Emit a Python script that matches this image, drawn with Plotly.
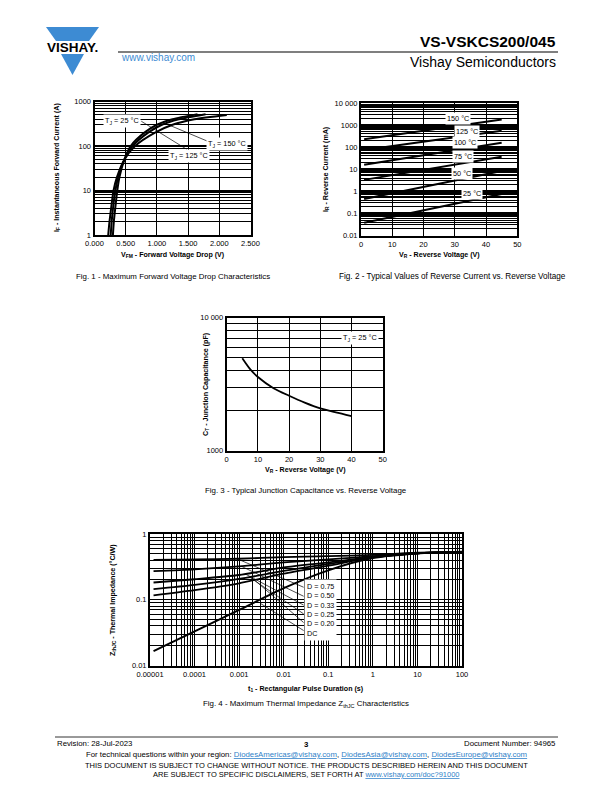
import math
import plotly.graph_objects as go

W, H = 612, 792
FONT = "Liberation Sans, Arial, Helvetica, sans-serif"
BLUE = "#3d8bd3"
TICK = 7.5
ATITLE = 7.1
CAP = 7.9
FOOT = 7.8

# ---------------- data ----------------
# Fig. 1 - forward voltage drop
fig1_if = [1, 2, 5, 10, 20, 50, 100, 200, 300, 400, 520]
fig1_vfm_25 = [0.295, 0.31, 0.34, 0.365, 0.40, 0.48, 0.58, 0.80, 1.00, 1.25, 1.65]
fig1_vfm_125 = [0.26, 0.275, 0.305, 0.335, 0.38, 0.48, 0.61, 0.86, 1.08, 1.35, 1.78]
fig1_if_150 = [1, 2, 5, 10, 20, 50, 100, 200, 300, 400, 500]
fig1_vfm_150 = [0.22, 0.24, 0.275, 0.305, 0.36, 0.48, 0.65, 0.97, 1.25, 1.60, 2.12]
fig1_x_ticks = [0, 0.5, 1.0, 1.5, 2.0, 2.5]
fig1_x_text = ["0.000", "0.500", "1.000", "1.500", "2.000", "2.500"]
fig1_y_ticks = [1, 10, 100, 1000]
fig1_y_text = ["1", "10", "100", "1000"]
fig1_lead_a_v = [0.75, 1.48]
fig1_lead_a_i = [360, 84]
fig1_lead_b_v = [1.16, 1.83]
fig1_lead_b_i = [310, 125]

# Fig. 2 - reverse current
fig2_vr = [1, 45]
fig2_ir_150 = [230, 1800]
fig2_ir_125 = [75, 550]
fig2_ir_100 = [16, 160]
fig2_ir_75 = [3.3, 37]
fig2_ir_50 = [0.45, 8.3]
fig2_ir_25 = [0.038, 0.76]
fig2_labels = ["150 °C", "125 °C", "100 °C", "75 °C", "50 °C", "25 °C"]
fig2_label_v = [31, 33.8, 33.3, 32.7, 32.2, 35.4]
fig2_label_i = [1900, 520, 155, 38.6, 6.1, 0.78]
fig2_y_ticks = [0.01, 0.1, 1, 10, 100, 1000, 10000]
fig2_y_text = ["0.01", "0.1", "1", "10", "100", "1000", "10 000"]

# Fig. 3 - junction capacitance
fig3_vr = [5, 7.5, 10, 15, 20, 25, 30, 35, 40]
fig3_ct = [4950, 4100, 3580, 2950, 2590, 2300, 2080, 1940, 1820]
fig3_y_ticks = [1000, 10000]
fig3_y_text = ["1000", "10 000"]

# Fig. 4 - thermal impedance
fig4_t = [1.2e-5, 1e-4, 1e-3, 1e-2, 1e-1, 1, 10, 100]
fig4_z_075 = [0.405, 0.41, 0.42, 0.445, 0.46, 0.48, 0.52, 0.535]
fig4_z_050 = [0.272, 0.29, 0.322, 0.37, 0.41, 0.46, 0.515, 0.535]
fig4_z_033 = [0.183, 0.205, 0.238, 0.31, 0.37, 0.45, 0.51, 0.535]
fig4_z_025 = [0.145, 0.168, 0.207, 0.274, 0.35, 0.445, 0.51, 0.535]
fig4_z_020 = [0.117, 0.14, 0.178, 0.25, 0.33, 0.44, 0.51, 0.535]
fig4_z_dc = [0.0166, 0.033, 0.07, 0.15, 0.28, 0.43, 0.505, 0.535]
fig4_lead_t0 = [0.0009, 0.0011, 0.0014, 0.0018, 0.0023, 0.0030]
fig4_lead_z0 = [0.42, 0.325, 0.245, 0.215, 0.195, 0.088]
fig4_lead_t1 = [0.028, 0.028, 0.028, 0.028, 0.028, 0.028]
fig4_lead_z1 = [0.155, 0.113, 0.083, 0.061, 0.045, 0.034]
fig4_labels = ["D = 0.75", "D = 0.50", "D = 0.33", "D = 0.25", "D = 0.20", "DC"]
fig4_x_ticks = [1e-5, 1e-4, 1e-3, 1e-2, 1e-1, 1, 10, 100]
fig4_x_text = ["0.00001", "0.0001", "0.001", "0.01", "0.1", "1", "10", "100"]
fig4_y_ticks = [0.01, 0.1, 1]
fig4_y_text = ["0.01", "0.1", "1"]


def minor_vals(lo, hi):
    return [m * 10 ** k for k in range(lo, hi) for m in range(2, 10)]


fig = go.Figure()


def curve(x, y, xa, ya, width=2.0, spline=True):
    fig.add_trace(go.Scatter(
        x=x, y=y, xaxis=xa, yaxis=ya, mode="lines",
        line=dict(color="black", width=width,
                  shape="spline" if spline else "linear", smoothing=0.7),
        hoverinfo="skip", showlegend=False))


# Fig 1
curve(fig1_vfm_25, fig1_if, "x", "y", 2.0)
curve(fig1_vfm_125, fig1_if, "x", "y", 2.0)
curve(fig1_vfm_150, fig1_if_150, "x", "y", 2.0)
curve(fig1_lead_a_v, fig1_lead_a_i, "x", "y", 0.7, False)
curve(fig1_lead_b_v, fig1_lead_b_i, "x", "y", 0.7, False)

# Fig 2
for ys in [fig2_ir_150, fig2_ir_125, fig2_ir_100, fig2_ir_75, fig2_ir_50, fig2_ir_25]:
    curve(fig2_vr, ys, "x2", "y2", 2.0, False)

# Fig 3
curve(fig3_vr, fig3_ct, "x3", "y3", 1.8)

# Fig 4
for i in range(len(fig4_lead_t0)):
    curve([fig4_lead_t0[i], fig4_lead_t1[i]], [fig4_lead_z0[i], fig4_lead_z1[i]], "x4", "y4", 0.7, False)
for ys in [fig4_z_075, fig4_z_050, fig4_z_033, fig4_z_025, fig4_z_020]:
    curve(fig4_t, ys, "x4", "y4", 1.8)
curve(fig4_t, fig4_z_dc, "x4", "y4", 2.0)


def dx(a, b):
    return [a / W, b / W]


def dy(top, bottom):
    return [1 - bottom / H, 1 - top / H]


def ax(**kw):
    base = dict(showline=True, mirror=True, linecolor="black", linewidth=2,
                showgrid=True, gridcolor="black", gridwidth=1, zeroline=False,
                ticks="", fixedrange=True, automargin=False,
                tickfont=dict(family=FONT, size=TICK, color="black"))
    base.update(kw)
    return base


def minor(lo, hi, w=0.8):
    return dict(tickmode="array", tickvals=minor_vals(lo, hi), showgrid=True,
                gridcolor="black", gridwidth=w, ticks="")


fig.update_layout(
    width=W, height=H, autosize=False,
    margin=dict(l=0, r=0, t=0, b=0, pad=0, autoexpand=False),
    paper_bgcolor="white", plot_bgcolor="white", showlegend=False,
    font=dict(family=FONT, color="black"),
    xaxis=ax(domain=dx(94.5, 250.5), range=[0, 2.5], anchor="y",
             tickmode="array", tickvals=fig1_x_ticks, ticktext=fig1_x_text),
    yaxis=ax(domain=dy(101.5, 235), type="log", range=[0, 3], anchor="x",
             tickmode="array", tickvals=fig1_y_ticks, ticktext=fig1_y_text,
             gridwidth=1.5, minor=minor(0, 3)),
    xaxis2=ax(domain=dx(361, 517.3), range=[0, 50], anchor="y2",
              tickmode="linear", tick0=0, dtick=10),
    yaxis2=ax(domain=dy(103, 235.5), type="log", range=[-2, 4], anchor="x2",
              tickmode="array", tickvals=fig2_y_ticks, ticktext=fig2_y_text,
              gridwidth=2.5, minor=minor(-2, 4, 1)),
    xaxis3=ax(domain=dx(226.7, 382.7), range=[0, 50], anchor="y3",
              tickmode="linear", tick0=0, dtick=10),
    yaxis3=ax(domain=dy(317.7, 450.7), type="log", range=[3, 4], anchor="x3",
              tickmode="array", tickvals=fig3_y_ticks, ticktext=fig3_y_text,
              minor=minor(3, 4, 1)),
    xaxis4=ax(domain=dx(150, 462), type="log", range=[-5, 2], anchor="y4",
              tickmode="array", tickvals=fig4_x_ticks, ticktext=fig4_x_text,
              minor=minor(-5, 2)),
    yaxis4=ax(domain=dy(534, 665.5), type="log", range=[-2, 0], anchor="x4",
              tickmode="array", tickvals=fig4_y_ticks, ticktext=fig4_y_text,
              minor=minor(-2, 0)),
)


def ptext(x, y, text, size=7, xanchor="center", yanchor="middle", color="black", angle=0):
    fig.add_annotation(x=x / W, y=1 - y / H, xref="paper", yref="paper", text=text,
                       showarrow=False, xanchor=xanchor, yanchor=yanchor,
                       textangle=angle, font=dict(family=FONT, size=size, color=color))


def dtext(x, y, xr, yr, text, size=7.3, xanchor="center"):
    fig.add_annotation(x=x, y=y, xref=xr, yref=yr, text=text, showarrow=False,
                       xanchor=xanchor, yanchor="middle", bgcolor="white", borderpad=1,
                       font=dict(family=FONT, size=size, color="black"))


# Fig 1 labels
dtext(0.436, math.log10(370), "x", "y", "T<sub>J</sub> = 25 °C")
dtext(2.13, math.log10(111), "x", "y", "T<sub>J</sub> = 150 °C")
dtext(1.52, math.log10(58.6), "x", "y", "T<sub>J</sub> = 125 °C")
# Fig 2 labels
for lab, v, i in zip(fig2_labels, fig2_label_v, fig2_label_i):
    dtext(v, math.log10(i), "x2", "y2", lab)
# Fig 3 label
dtext(42.7, math.log10(7000), "x3", "y3", "T<sub>J</sub> = 25 °C")
# Fig 4 label box
fig.add_annotation(x=math.log10(0.028), y=math.log10(0.071), xref="x4", yref="y4",
                   text="<br>".join(fig4_labels), showarrow=False, xanchor="left",
                   yanchor="middle", align="left", bgcolor="white", borderpad=2,
                   font=dict(family=FONT, size=7.2, color="black"))

# axis titles
ptext(172.5, 255, "<b>V<sub>FM</sub> - Forward Voltage Drop (V)</b>", ATITLE)
ptext(57, 168, "<b>I<sub>F</sub> - Instantaneous Forward Current (A)</b>", ATITLE, angle=-90)
ptext(439, 255, "<b>V<sub>R</sub> - Reverse Voltage (V)</b>", ATITLE)
ptext(326, 169, "<b>I<sub>R</sub> - Reverse Current (mA)</b>", ATITLE, angle=-90)
ptext(305, 470, "<b>V<sub>R</sub> - Reverse Voltage (V)</b>", ATITLE)
ptext(206, 384, "<b>C<sub>T</sub> - Junction Capacitance (pF)</b>", ATITLE, angle=-90)
ptext(306, 689, "<b>t<sub>1</sub> - Rectangular Pulse Duration (s)</b>", ATITLE)
ptext(113, 600, "<b>Z<sub>thJC</sub> - Thermal Impedance (°C/W)</b>", ATITLE, angle=-90)

# captions
ptext(173, 276, "Fig. 1 - Maximum Forward Voltage Drop Characteristics", CAP)
ptext(452, 276, "Fig. 2 - Typical Values of Reverse Current vs. Reverse Voltage", CAP + 0.3)
ptext(306, 490, "Fig. 3 - Typical Junction Capacitance vs. Reverse Voltage", CAP)
ptext(306, 704, "Fig. 4 - Maximum Thermal Impedance Z<sub>thJC</sub> Characteristics", CAP)

# header
ptext(558, 42, "<b>VS-VSKCS200/045</b>", 15.5, xanchor="right")
ptext(558, 62, "Vishay Semiconductors", 14, xanchor="right")
ptext(119, 58, "www.vishay.com", 10, xanchor="left", color=BLUE)
ptext(72, 47.5, "<b>VISHAY.</b>", 13.5)


def P(x, y):
    return f"{x / W:.5f},{1 - y / H:.5f}"


shapes = [
    dict(type="line", xref="paper", yref="paper", x0=118 / W, x1=558 / W,
         y0=1 - 52 / H, y1=1 - 52 / H, line=dict(color="black", width=1.2)),
    dict(type="line", xref="paper", yref="paper", x0=55 / W, x1=558 / W,
         y0=1 - 737 / H, y1=1 - 737 / H, line=dict(color="black", width=0.8)),
    dict(type="path", xref="paper", yref="paper",
         path=f"M{P(46, 27)} L{P(99, 27)} L{P(89, 41)} L{P(56, 41)} Z",
         fillcolor=BLUE, line=dict(width=0)),
    dict(type="path", xref="paper", yref="paper",
         path=f"M{P(61, 54)} L{P(84, 54)} L{P(72.5, 75)} Z",
         fillcolor=BLUE, line=dict(width=0)),
]
fig.update_layout(shapes=shapes)

# footer
LINK = "<span style='color:#2f7fc8;text-decoration:underline'>{}</span>"
ptext(55, 743, "Revision: 28-Jul-2023", FOOT, xanchor="left")
ptext(306, 744, "<b>3</b>", FOOT)
ptext(558, 743, "Document Number: 94965", FOOT, xanchor="right")
ptext(306, 754, "For technical questions within your region: " + LINK.format("DiodesAmericas@vishay.com")
      + ", " + LINK.format("DiodesAsia@vishay.com") + ", " + LINK.format("DiodesEurope@vishay.com"), FOOT)
ptext(306, 765, "THIS DOCUMENT IS SUBJECT TO CHANGE WITHOUT NOTICE. THE PRODUCTS DESCRIBED HEREIN AND THIS DOCUMENT", FOOT - 0.3)
ptext(306, 774, "ARE SUBJECT TO SPECIFIC DISCLAIMERS, SET FORTH AT " + LINK.format("www.vishay.com/doc?91000"), FOOT - 0.3)

fig.write_html("out.html", config={"responsive": False, "displayModeBar": False},
               post_script="document.body.style.margin='0';document.body.style.overflow='hidden';")
